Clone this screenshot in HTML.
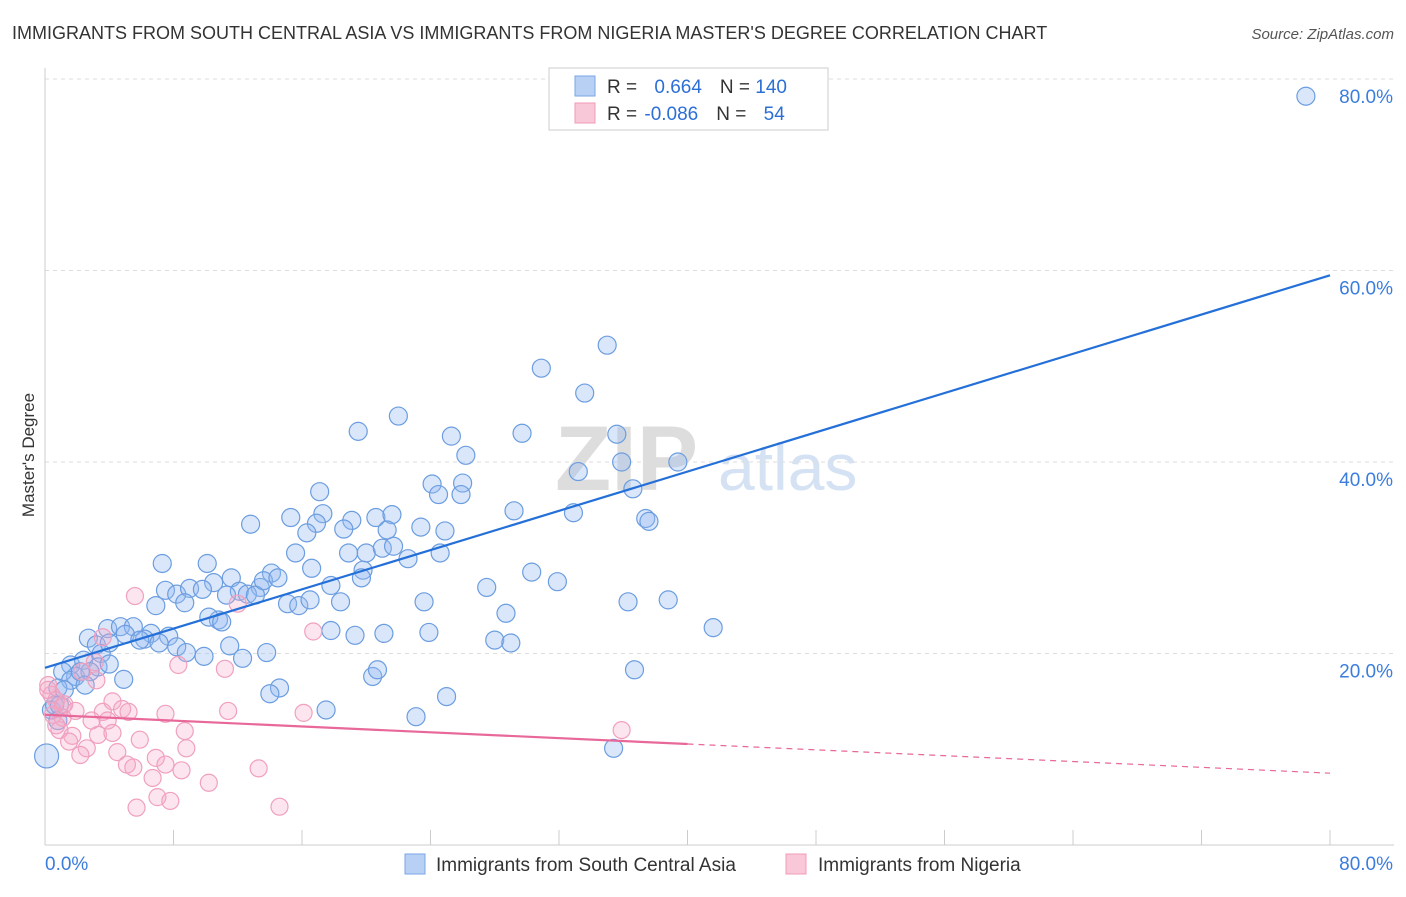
<!DOCTYPE html>
<html><head><meta charset="utf-8"><style>
body{margin:0;background:#fff;font-family:"Liberation Sans",sans-serif;}
svg text{font-family:"Liberation Sans",sans-serif;}
</style></head><body>
<svg id="chart" width="1406" height="892">
<text x="12" y="39" font-size="18" fill="#333">IMMIGRANTS FROM SOUTH CENTRAL ASIA VS IMMIGRANTS FROM NIGERIA MASTER'S DEGREE CORRELATION CHART</text>
<text x="1394" y="39" font-size="15" fill="#555" text-anchor="end" font-style="italic">Source: ZipAtlas.com</text>
<text x="34" y="455" font-size="17" fill="#333" text-anchor="middle" transform="rotate(-90 34 455)">Master's Degree</text>
<text x="555" y="490" font-size="92" fill="#ddd" font-family="Liberation Serif" font-weight="bold">ZIP</text>
<text x="718" y="490" font-size="66" fill="#d4e2f4">atlas</text>
<g id="grid"></g><g id="axes"></g><g id="pts"></g><g id="lines"></g>
<g>
<rect x="549" y="68" width="279" height="62" fill="#fff" stroke="#ccc"/>
<rect x="575" y="76" width="20" height="20" fill="#b8d0f4" stroke="#7aa6e6"/>
<rect x="575" y="103" width="20" height="20" fill="#f8c8d8" stroke="#f09ab8"/>
<text x="607" y="93" font-size="19" fill="#333">R = <tspan fill="#2b6fd6" dx="12">0.664</tspan><tspan dx="18" fill="#333">N = </tspan><tspan fill="#2b6fd6">140</tspan></text>
<text x="607" y="120" font-size="19" fill="#333">R = <tspan fill="#2b6fd6" dx="2">-0.086</tspan><tspan dx="18" fill="#333">N = </tspan><tspan fill="#2b6fd6" dx="12">54</tspan></text>
</g>
<g>
<rect x="405" y="854" width="20" height="20" fill="#b8d0f4" stroke="#7aa6e6"/>
<text x="436" y="871" font-size="19" fill="#333">Immigrants from South Central Asia</text>
<rect x="786" y="854" width="20" height="20" fill="#f8c8d8" stroke="#f09ab8"/>
<text x="818" y="871" font-size="19" fill="#333">Immigrants from Nigeria</text>
</g>
</svg>
<script>
const blueX=[78.5,35.0,30.9,33.6,22.0,19.5,25.3,29.7,35.6,26.2,33.2,35.9,39.4,24.1,26.0,24.5,25.9,36.6,17.1,12.8,15.3,17.3,16.9,16.3,19.1,20.6,21.6,18.6,21.3,23.4,24.9,29.2,32.9,37.4,37.6,7.3,10.1,15.6,18.9,20.0,21.0,21.7,22.6,24.6,16.6,19.8,19.7,30.3,31.9,27.5,14.1,11.6,10.5,7.5,8.2,9.0,9.8,12.1,13.4,12.6,13.1,13.6,14.5,17.8,8.7,6.9,11.3,15.1,15.8,16.5,18.4,23.6,28.7,36.3,38.8,41.6,3.9,4.7,5.5,5.0,6.6,7.7,6.2,2.7,3.2,3.5,4.0,5.9,7.1,8.2,8.8,9.9,11.5,12.3,13.8,10.8,10.2,11.0,17.8,19.3,21.1,23.9,28.0,29.0,1.6,2.4,3.3,1.9,4.0,4.9,1.1,1.6,2.8,0.8,1.2,36.7,20.4,20.7,14.6,14.0,25.0,23.1,17.5,35.4,0.1,0.4,0.6,0.9,0.8,2.2,2.5];
const blueY=[78.2,52.2,49.8,47.2,44.8,43.2,42.7,43.0,42.9,40.7,39.0,40.0,40.0,37.7,37.8,36.6,36.6,37.2,36.9,33.5,34.2,34.6,33.6,32.6,33.9,34.2,34.5,33.0,32.9,33.2,32.8,34.9,34.7,34.1,33.8,29.4,29.4,30.5,30.5,30.5,31.0,31.2,29.9,30.5,28.9,28.7,27.9,28.5,27.5,26.9,28.4,27.9,27.4,26.6,26.2,26.8,26.7,26.5,26.9,26.2,26.1,27.6,27.9,27.1,25.3,25.0,26.1,25.2,25.0,25.6,25.4,25.4,24.2,25.4,25.6,22.7,22.6,22.8,22.8,22.0,22.1,21.8,21.5,21.6,20.9,20.0,21.1,21.4,21.1,20.7,20.1,19.7,20.8,19.5,20.1,23.5,23.8,23.3,22.4,21.9,22.1,22.2,21.4,21.1,18.8,19.3,18.6,17.6,18.9,17.3,18.1,17.2,18.1,16.4,16.2,18.3,17.6,18.3,16.4,15.8,15.5,13.4,14.1,10.1,9.3,14.1,14.6,14.6,13.0,18.1,16.7];
const pinkX=[5.6,3.6,3.1,2.3,3.2,8.3,11.2,12.0,16.7,0.2,0.4,0.7,1.1,0.5,1.2,1.9,3.6,4.2,4.8,5.2,2.9,3.9,7.5,11.4,16.1,35.9,0.9,1.7,1.5,3.3,4.2,5.9,8.7,2.6,2.2,4.5,5.1,5.5,6.9,7.5,6.7,8.5,8.8,10.2,13.3,7.0,7.8,5.7,14.6,1.1,0.2,0.7];
const pinkY=[26.0,21.7,19.1,18.1,17.2,18.8,18.4,25.2,22.3,16.7,15.7,15.1,14.5,13.6,14.7,14.0,13.9,15.0,14.2,13.9,13.0,13.0,13.7,14.0,13.8,12.0,12.0,11.4,10.8,11.5,11.7,11.0,11.9,10.1,9.4,9.7,8.4,8.1,9.1,8.4,7.0,7.8,10.1,6.5,8.0,5.0,4.6,3.9,4.0,13.3,16.2,12.5];
const blueTrend=[18.5,59.5]; // y at x=0, y at x=80
const pinkTrend=[13.6,7.5];
const yTicks=[20,40,60,80];
const tickLabels=["20.0%","40.0%","60.0%","80.0%"];
const NS="http://www.w3.org/2000/svg";
const X=v=>45+v*(1285/80), Y=v=>845-v*(766/80);
function mk(tag,attrs,parent){const e=document.createElementNS(NS,tag);for(const k in attrs)e.setAttribute(k,attrs[k]);document.getElementById(parent).appendChild(e);return e;}
yTicks.forEach((t,i)=>{
 const g=mk('line',{x1:45,x2:1394,y1:Y(t),y2:Y(t),stroke:'#ddd','stroke-dasharray':'4,4'},'grid');
 
 
 const tx=mk('text',{x:1393,y:Y(t)+24,'font-size':19,fill:'#3b7ddd','text-anchor':'end'},'grid');
 tx.textContent=tickLabels[i];
 
 
});
const ax=mk('line',{x1:45,x2:1394,y1:845,y2:845,stroke:'#ccc'},'axes');


const ay=mk('line',{x1:45,x2:45,y1:68,y2:845,stroke:'#ccc'},'axes');


for(let i=1;i<=10;i++){const t=mk('line',{x1:45+i*128.5,x2:45+i*128.5,y1:830,y2:845,stroke:'#ccc'},'axes');
 
 }
const l0=mk('text',{x:45,y:870,'font-size':19,fill:'#3b7ddd'},'axes');l0.textContent='0.0%';


const l1=mk('text',{x:1393,y:870,'font-size':19,fill:'#3b7ddd','text-anchor':'end'},'axes');l1.textContent='80.0%';


blueX.forEach((x,i)=>{const c=mk('circle',{cx:X(x),cy:Y(blueY[i]),r:(x<0.2?12:9),fill:'rgba(150,185,240,0.35)',stroke:'#6b9de0','stroke-width':1.2},'pts');
 
 });
pinkX.forEach((x,i)=>{const c=mk('circle',{cx:X(x),cy:Y(pinkY[i]),r:8.5,fill:'rgba(245,170,200,0.3)',stroke:'#f0a0bf','stroke-width':1.2},'pts');
 
 });
const bl=mk('line',{x1:X(0),y1:Y(blueTrend[0]),x2:X(80),y2:Y(blueTrend[1]),stroke:'#2470d8','stroke-width':2.2},'lines');


const pm=pinkTrend[0]+(pinkTrend[1]-pinkTrend[0])*0.5;
const pl=mk('line',{x1:X(0),y1:Y(pinkTrend[0]),x2:X(40),y2:Y(pm),stroke:'#e8689a','stroke-width':2.2},'lines');


const pd=mk('line',{x1:X(40),y1:Y(pm),x2:X(80),y2:Y(pinkTrend[1]),stroke:'#e8689a','stroke-width':1.2,'stroke-dasharray':'6,5'},'lines');


</script>
</body></html>
